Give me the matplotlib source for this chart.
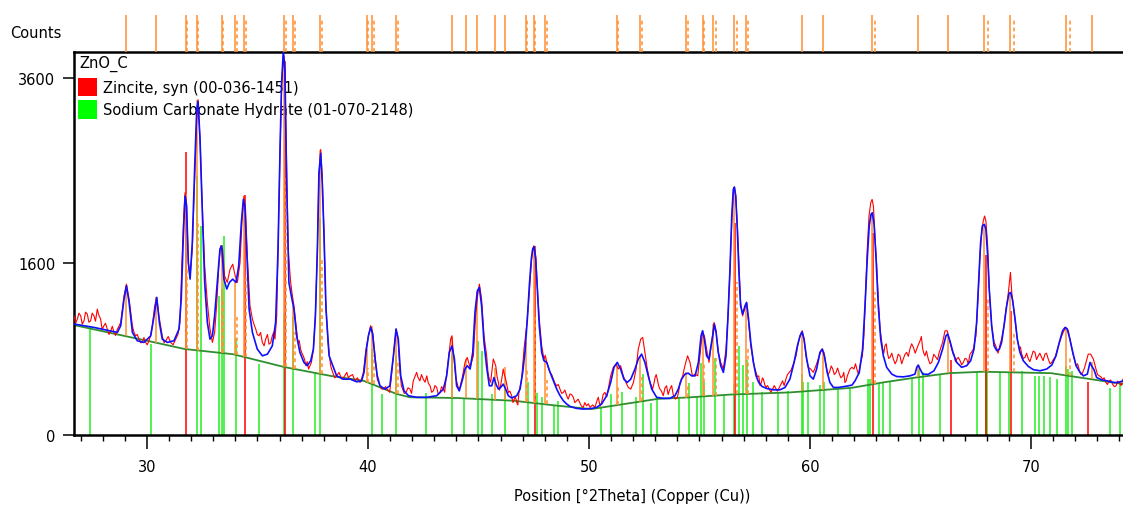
import numpy as np
import matplotlib
matplotlib.use("Agg")
import matplotlib.pyplot as plt
from matplotlib.patches import Rectangle
from matplotlib.ticker import FixedLocator, MultipleLocator

plt.rcParams['font.family'] = ['DejaVu Sans']

# ---------------- data ----------------
obs_x = [26.70, 26.85, 27.00, 27.15, 27.30, 27.45, 27.60, 27.75, 27.90, 28.05, 28.20, 28.36, 28.51, 28.66,
         28.81, 28.96, 29.07, 29.19, 29.34, 29.49, 29.64, 29.79, 29.94, 30.09, 30.24, 30.35, 30.44, 30.54,
         30.69, 30.85, 31.07, 31.30, 31.49, 31.57, 31.64, 31.72, 31.79, 31.87, 31.95, 32.05, 32.16, 32.25,
         32.31, 32.40, 32.49, 32.61, 32.73, 32.85, 32.96, 33.06, 33.15, 33.26, 33.33, 33.42, 33.51, 33.63,
         33.76, 33.88, 33.99, 34.09, 34.21, 34.31, 34.39, 34.46, 34.54, 34.66, 34.77, 34.92, 35.07, 35.22,
         35.37, 35.52, 35.67, 35.79, 35.87, 35.94, 36.02, 36.09, 36.17, 36.24, 36.32, 36.39, 36.50, 36.58,
         36.65, 36.73, 36.83, 36.95, 37.07, 37.19, 37.31, 37.44, 37.53, 37.62, 37.71, 37.78, 37.86, 37.93,
         38.01, 38.08, 38.19, 38.31,
         38.43, 38.58, 38.81, 39.04, 39.19, 39.41, 39.64, 39.79, 39.91, 40.02, 40.12, 40.21, 40.32, 40.42,
         40.54, 40.69, 40.92, 41.04, 41.15, 41.27, 41.36, 41.45, 41.57, 41.72, 41.90, 42.05, 42.20, 42.35,
         42.50, 42.66, 42.81, 42.96, 43.11, 43.26, 43.41, 43.53, 43.64, 43.74, 43.80, 43.86, 43.98, 44.13,
         44.28, 44.39, 44.49, 44.62, 44.77, 44.87, 44.96, 45.04, 45.14, 45.25, 45.37, 45.49, 45.60, 45.67,
         45.78, 45.90, 46.00, 46.12, 46.23, 46.35, 46.50, 46.62, 46.73, 46.83, 46.95, 47.06, 47.18, 47.29,
         47.38, 47.45, 47.51, 47.59, 47.66, 47.75, 47.86, 47.96, 48.09, 48.24, 48.39, 48.54, 48.69, 48.84,
         48.99, 49.14, 49.29, 49.44, 49.59, 49.74, 49.89, 50.05,
         50.27, 50.42, 50.57, 50.72, 50.87, 50.98, 51.10, 51.22, 51.33, 51.43, 51.55, 51.67, 51.78, 51.89,
         52.01, 52.13, 52.23, 52.34, 52.43, 52.53, 52.64, 52.76, 52.88, 52.99, 53.09, 53.21, 53.36, 53.51,
         53.66, 53.82, 54.00, 54.12, 54.24, 54.34, 54.46, 54.57, 54.68, 54.80, 54.92, 55.02, 55.13, 55.22,
         55.32, 55.43, 55.55, 55.66, 55.75, 55.85, 55.96, 56.08, 56.20, 56.29, 56.38, 56.46, 56.53, 56.58,
         56.64, 56.71, 56.79, 56.86, 56.95, 57.04, 57.13, 57.22, 57.32, 57.44, 57.56, 57.68, 57.80, 57.89,
         58.01, 58.16, 58.31, 58.46, 58.61, 58.76, 58.91, 59.06, 59.22, 59.37, 59.47, 59.58, 59.65, 59.73,
         59.82, 59.92, 60.03, 60.15, 60.27, 60.42, 60.53, 60.63, 60.75, 60.88, 61.03, 61.18, 61.33, 61.48,
         61.58, 61.69, 61.81,
         61.99, 62.14, 62.26, 62.37, 62.44, 62.52, 62.59, 62.67, 62.75, 62.81, 62.87, 62.94, 63.02, 63.09,
         63.17, 63.29, 63.39, 63.50, 63.62, 63.77, 63.92, 64.07, 64.22, 64.37, 64.52, 64.68, 64.83, 64.98,
         65.10, 65.20, 65.35, 65.51, 65.70, 65.85, 66.00, 66.11, 66.21, 66.30, 66.41, 66.52, 66.64, 66.79,
         66.94, 67.09, 67.24, 67.39, 67.51, 67.60, 67.69, 67.78, 67.84, 67.90, 67.96, 68.04, 68.11, 68.22,
         68.33, 68.45, 68.57, 68.67, 68.78, 68.87, 68.96, 69.02, 69.07, 69.13, 69.20, 69.29, 69.38, 69.47,
         69.58, 69.73, 69.88, 70.03, 70.18, 70.33, 70.48, 70.63, 70.78, 70.94, 71.09, 71.24, 71.39, 71.49,
         71.58, 71.69, 71.79, 71.92, 72.04, 72.19, 72.34, 72.49, 72.59, 72.70, 72.82, 72.94, 73.09, 73.24,
         73.39, 73.54, 73.69, 73.85, 74.00, 74.16]
obs_y = [1063, 1031, 1063, 1014, 1080, 1014, 1063, 1130, 1031, 965, 933, 916, 900, 933,
         998, 1263, 1382, 1230, 965, 867, 835, 803, 803, 819, 965, 1163, 1247, 1063,
         867, 819, 803, 835, 998, 1535, 1985, 2339, 2232, 1603, 1467, 1741, 2518, 3136,
         3356, 2916, 2267, 1569, 1197, 933, 803, 900, 1163, 1603, 1776, 1741, 1467, 1399,
         1535, 1586, 1467, 1399, 1603, 2090, 2302, 2161, 1672, 1163, 1031, 933, 867, 803,
         835, 786, 867, 835, 1063, 1880, 2807, 3468, 3880, 3655, 2626, 1741, 1399, 1263,
         1163, 998, 803, 739, 675, 582, 551, 613, 739, 1063, 1741, 2518, 2807, 2518,
         1915, 1230, 803, 582,
         504, 488, 458, 520, 488, 443, 428, 520, 739, 868, 966, 900, 675, 458,
         398, 368, 353, 443, 675, 933, 835, 520, 368, 339, 368, 443, 520, 443,
         458, 488, 398, 353, 383, 339, 368, 458, 645, 835, 868, 708, 458, 353,
         488, 613, 660, 567, 675, 1063, 1263, 1382, 1230, 868, 675, 458, 520, 645,
         582, 428, 398, 551, 458, 339, 310, 281, 252, 339, 458, 739, 966, 1263,
         1569, 1741, 1776, 1672, 1365, 1031, 770, 645, 613, 520, 458, 398, 368, 339,
         310, 325, 296, 266, 246, 209, 223, 209,
         210, 296, 252, 339, 368, 488, 567, 597, 551, 582, 488, 428, 383, 368,
         428, 551, 739, 835, 851, 708, 551, 428, 368, 473, 458, 368, 310, 398,
         368, 310, 296, 428, 488, 582, 675, 613, 488, 504, 488, 675, 900, 867,
         739, 613, 803, 998, 916, 708, 613, 551, 739, 1063, 1535, 2019, 2339, 2399,
         2302, 2019, 1569, 1197, 1063, 1130, 1197, 998, 770, 613, 520, 488, 428, 458,
         383, 368, 368, 374, 383, 443, 458, 520, 582, 675, 803, 884, 916, 835,
         675, 567, 551, 520, 582, 675, 739, 708, 551, 520, 551, 520, 504, 488,
         428, 488, 551,
         551, 535, 582, 675, 867, 1332, 1741, 2090, 2232, 2267, 2196, 1880, 1569, 1230,
         933, 739, 770, 708, 660, 645, 629, 675, 645, 708, 739, 755, 739, 819,
         739, 675, 645, 613, 660, 708, 803, 916, 916, 835, 739, 691, 645, 629,
         613, 645, 691, 739, 867, 1230, 1672, 1950, 2038, 2090, 2038, 1776, 1332, 966,
         803, 739, 755, 835, 966, 1130, 1263, 1399, 1502, 1298, 1163, 998, 835, 739,
         691, 660, 645, 675, 708, 675, 660, 691, 645, 613, 660, 770, 867, 916,
         949, 916, 803, 675, 582, 535, 520, 613, 691, 691, 645, 551, 488, 458,
         428, 443, 413, 398, 428, 458]

# extra observed points read in the noisy stretches between peaks
obs_x_extra = [26.77, 26.92, 27.07, 27.22, 27.37, 27.52, 27.67, 27.82, 27.97, 28.12, 28.28, 28.43, 28.58, 28.73,
               29.41, 29.56, 29.71, 29.86, 30.01, 30.16, 30.77, 30.96, 31.18, 31.40,
               34.84, 34.99, 35.14, 35.30, 35.45, 35.60, 35.73, 36.89, 37.01, 37.13, 37.25, 37.37,
               38.37, 38.50, 38.69, 38.92, 39.11, 39.30, 39.52, 39.71, 40.48, 40.61, 40.80, 40.98,
               41.51, 41.64, 41.81, 41.97, 42.12, 42.27, 42.42, 42.58, 42.73, 42.88, 43.03, 43.18, 43.33, 43.47,
               45.43, 45.55, 45.84, 45.95, 46.06, 46.17, 46.29, 46.42, 46.56, 46.67, 46.78, 46.89,
               48.02, 48.16, 48.31, 48.46, 48.61, 48.76, 48.91, 49.06, 49.21, 49.36, 49.51, 49.66, 49.81, 49.97,
               50.16, 50.35, 50.50, 50.64, 50.80,
               52.82, 52.94, 53.04, 53.15, 53.28, 53.44, 53.58, 53.74, 53.91, 54.06,
               57.50, 57.62, 57.74, 57.85, 57.95, 58.08, 58.23, 58.38, 58.53, 58.68, 58.83, 58.98, 59.14,
               60.81, 60.96, 61.10, 61.25, 61.40, 61.53, 61.63, 61.75, 61.90, 62.06, 62.20,
               63.34, 63.45, 63.56, 63.70, 63.85, 63.99, 64.15, 64.30, 64.45, 64.60, 64.76, 64.90, 65.04,
               65.15, 65.27, 65.43, 65.60, 65.77,
               66.47, 66.58, 66.71, 66.86, 67.01, 67.16, 67.31, 68.39, 68.51, 68.62,
               69.52, 69.65, 69.80, 69.95, 70.10, 70.25, 70.40, 70.55, 70.70, 70.86, 71.01,
               72.11, 72.26, 72.42, 72.88, 73.01, 73.16, 73.31, 73.46, 73.61, 73.77, 73.92, 74.08]
obs_y_extra = [990, 1090, 980, 1100, 1000, 1090, 1010, 1070, 930, 990, 880, 960, 870, 960,
               900, 880, 800, 850, 780, 870, 800, 860, 780, 880,
               980, 880, 900, 770, 880, 800, 900, 820, 700, 640, 620, 580,
               540, 470, 520, 480, 470, 500, 470, 460, 430, 370, 390, 340,
               400, 330, 380, 330, 480, 470, 500, 430, 420, 340, 400, 320, 390, 340,
               520, 430, 480, 360, 470, 500, 400, 350, 250, 300, 230, 400,
               680, 560, 500, 420, 410, 330, 360, 280, 320, 250, 280, 220, 250, 240,
               230, 260, 220, 320, 300,
               400, 420, 500, 400, 350, 380, 320, 400, 280, 350,
               560, 480, 400, 470, 410, 400, 340, 400, 350, 410, 400, 500, 540,
               500, 580, 500, 560, 470, 520, 440, 520, 567, 600, 500,
               700, 790, 650, 700, 600, 690, 600, 690, 670, 790, 700, 780, 860,
               700, 720, 600, 690, 640,
               700, 620, 660, 590, 650, 600, 710, 780, 700, 800,
               760, 650, 700, 620, 720, 640, 700, 630, 700, 600, 640,
               600, 500, 560, 600, 500, 480, 470, 410, 450, 390, 440, 400]

fit_x = [26.70, 27.60, 28.66, 28.81, 28.96, 29.07, 29.19, 29.34, 29.56, 29.86, 30.17, 30.32, 30.44, 30.56,
         30.69, 30.92, 31.22, 31.45, 31.55, 31.64, 31.72, 31.79, 31.87, 31.95, 32.05, 32.16, 32.25, 32.31,
         32.40, 32.49, 32.61, 32.73, 32.85, 32.96, 33.06, 33.18, 33.30, 33.38, 33.48, 33.61, 33.73, 33.88,
         34.03, 34.15, 34.27, 34.36, 34.43, 34.51, 34.62, 34.77, 34.99, 35.22, 35.45, 35.67, 35.82, 35.93,
         36.02, 36.09, 36.17, 36.24, 36.32, 36.42, 36.53, 36.65, 36.77, 36.92, 37.10, 37.25, 37.41, 37.53,
         37.62, 37.71, 37.78, 37.86, 37.93, 38.01, 38.10, 38.24,
         38.58, 38.88, 39.19, 39.49, 39.71, 39.82, 39.91, 40.02, 40.12, 40.21, 40.32, 40.42, 40.54, 40.77,
         40.99, 41.15, 41.27, 41.37, 41.48, 41.63, 41.83, 42.20, 42.66, 43.11, 43.41, 43.56, 43.68, 43.80,
         43.91, 44.01, 44.13, 44.28, 44.39, 44.49, 44.62, 44.74, 44.84, 44.95, 45.04, 45.14, 45.25, 45.37,
         45.49, 45.60, 45.70, 45.79, 45.90, 46.00, 46.12, 46.23, 46.35, 46.50, 46.73, 46.88, 47.00, 47.10,
         47.21, 47.30, 47.39, 47.45, 47.51, 47.59, 47.66, 47.75, 47.86, 47.96, 48.09, 48.24, 48.39, 48.54,
         48.69, 48.84, 48.99, 49.14, 49.44, 49.74, 50.14,
         50.35, 50.57, 50.80, 50.98, 51.13, 51.28, 51.43, 51.58, 51.73, 51.89, 52.08, 52.23, 52.38, 52.53,
         52.68, 52.84, 53.06, 53.36, 53.66, 53.89, 54.04, 54.19, 54.34, 54.49, 54.65, 54.80, 54.95, 55.07,
         55.14, 55.22, 55.32, 55.43, 55.52, 55.60, 55.67, 55.75, 55.85, 55.96, 56.08, 56.20, 56.29, 56.38,
         56.46, 56.53, 56.58, 56.64, 56.71, 56.79, 56.86, 56.95, 57.06, 57.13, 57.22, 57.32, 57.44, 57.56,
         57.68, 57.83, 58.04, 58.34, 58.64, 58.87, 59.09, 59.28, 59.43, 59.55, 59.64, 59.73, 59.85, 60.00,
         60.15, 60.30, 60.45, 60.56, 60.65, 60.78, 60.90, 61.06, 61.28, 61.58, 61.90,
         62.04, 62.23, 62.38, 62.49, 62.59, 62.68, 62.76, 62.82, 62.90, 62.99, 63.09, 63.20, 63.32, 63.47,
         63.70, 63.92, 64.22, 64.52, 64.75, 64.83, 64.90, 64.98, 65.10, 65.35, 65.61, 65.81, 66.00, 66.15,
         66.23, 66.33, 66.49, 66.64, 66.86, 67.09, 67.27, 67.42, 67.54, 67.63, 67.72, 67.80, 67.89, 67.96,
         68.04, 68.11, 68.22, 68.33, 68.45, 68.57, 68.67, 68.78, 68.90, 69.00, 69.08, 69.17, 69.28, 69.38,
         69.50, 69.65, 69.88, 70.11, 70.41, 70.71, 70.94, 71.13, 71.28, 71.43, 71.54, 71.64, 71.76, 71.89,
         72.04, 72.22, 72.37, 72.55, 72.67, 72.74, 72.85, 72.97, 73.20, 73.42, 73.72, 73.95, 74.16]
fit_y = [982, 949, 900, 965, 1230, 1365, 1197, 900, 819, 803, 867, 1063, 1247, 998,
         835, 803, 819, 933, 1230, 1845, 2302, 2196, 1603, 1433, 1810, 2626, 3246, 3338,
         2916, 2232, 1399, 998, 835, 867, 1063, 1399, 1741, 1776, 1433, 1332, 1399, 1433,
         1399, 1569, 2019, 2267, 2196, 1741, 1130, 900, 739, 675, 691, 770, 998, 1741,
         2807, 3540, 3900, 3690, 2445, 1399, 1263, 1130, 867, 707, 613, 582, 629, 739,
         1063, 1741, 2553, 2765, 2445, 1880, 1130, 675,
         488, 458, 458, 434, 443, 520, 708, 868, 949, 884, 645, 488, 398, 368,
         398, 675, 933, 835, 488, 353, 310, 296, 296, 310, 368, 488, 708, 770,
         645, 398, 353, 458, 551, 582, 551, 708, 1097, 1315, 1349, 1163, 803, 567,
         398, 398, 473, 413, 368, 383, 413, 368, 310, 290, 310, 368, 520, 708,
         1031, 1365, 1638, 1741, 1769, 1638, 1332, 966, 708, 629, 613, 520, 443, 368,
         310, 266, 238, 218, 201, 195, 201,
         210, 238, 310, 428, 567, 613, 551, 458, 428, 458, 551, 645, 691, 613,
         488, 368, 296, 287, 287, 310, 368, 458, 504, 513, 488, 488, 613, 867,
         916, 835, 675, 645, 770, 867, 982, 900, 708, 582, 520, 675, 1063, 1535,
         2090, 2374, 2399, 2302, 1950, 1467, 1163, 1080, 1163, 1197, 1031, 803, 613, 488,
         428, 392, 374, 362, 362, 383, 458, 613, 770, 867, 906, 835, 645, 488,
         458, 551, 708, 739, 675, 520, 428, 383, 383, 392, 404,
         443, 520, 739, 1163, 1638, 1985, 2108, 2125, 2002, 1638, 1163, 835, 675, 567,
         504, 482, 479, 488, 504, 567, 588, 551, 504, 502, 535, 613, 739, 867,
         884, 819, 691, 613, 567, 582, 629, 739, 998, 1399, 1811, 1985, 2002, 1950,
         1672, 1332, 966, 770, 724, 739, 803, 966, 1163, 1287, 1298, 1214, 1031, 835,
         708, 629, 575, 545, 535, 551, 588, 675, 803, 916, 949, 933, 835, 708,
         582, 520, 488, 504, 613, 582, 545, 473, 452, 443, 428, 428, 443]

bg_x = [26.7, 28.5, 30.2, 31.7, 33.9, 36.2, 38.3, 39.8, 41.3, 41.9, 44.0, 46.6, 48.5, 50.1,
        51.6, 53.1, 54.6, 56.4, 59.1, 61.9, 63.3, 64.8, 66.3, 67.8, 70.9, 72.4, 74.2]
bg_y = [972, 888, 810, 740, 690, 570, 488, 443, 325, 296, 290, 266, 225, 195,
        238, 282, 296, 320, 339, 380, 428, 473, 513, 526, 513, 467, 413]

# Zincite, syn (00-036-1451) reference sticks
zincite_pos = [31.77, 34.42, 36.25, 47.54, 56.60, 62.86, 66.38, 67.96, 69.10, 72.56]
zincite_h = [2775, 2310, 3790, 1770, 2013, 1908, 635, 1679, 1110, 432]

# Sodium Carbonate Hydrate (01-070-2148) reference sticks
sodium_pos = [27.41, 30.17, 32.25, 32.43, 33.24, 33.38, 33.48, 34.04, 35.07, 36.20, 36.61, 37.60,
              37.83, 40.17, 40.63, 41.28, 42.64, 43.80, 44.33, 44.96, 45.16, 45.62, 46.20, 47.25,
              47.63, 47.86, 48.42, 48.61, 50.54, 51.01, 51.48, 52.11, 52.43, 52.82, 53.06, 54.09,
              54.52, 54.87, 55.07, 55.22, 55.69, 56.11, 56.56, 56.80, 56.98, 57.13, 57.43, 57.81,
              58.57, 59.02, 59.64, 59.70, 59.91, 60.45, 60.63, 61.28, 61.81, 62.61, 62.71, 63.14,
              63.32, 63.62, 64.60, 64.95, 65.13, 65.88, 67.54, 67.96, 68.02, 68.60, 69.02, 69.58,
              70.18, 70.38, 70.59, 70.86, 71.16, 71.58, 71.69, 71.84, 73.57, 74.03]
sodium_h = [960, 787, 2515, 1980, 1260, 1330, 1877, 850, 597, 1080, 1050, 523,
            2055, 740, 325, 672, 333, 692, 281, 816, 720, 325, 368, 432,
            333, 298, 221, 264, 207, 325, 340, 296, 504, 250, 296, 296,
            423, 310, 612, 428, 650, 316, 413, 764, 588, 637, 428, 340,
            340, 354, 504, 433, 433, 404, 428, 368, 368, 459, 459, 413,
            428, 442, 459, 551, 524, 495, 524, 542, 530, 524, 524, 533,
            490, 490, 490, 475, 460, 580, 551, 530, 380, 428]

# fitted peak list (K-alpha1, solid) : position, base, top
peak_pos = [29.05, 30.39, 31.75, 32.24, 33.38, 34.00, 34.40, 36.20, 36.62, 37.83, 39.94, 40.17,
            41.27, 43.80, 44.43, 44.92, 45.73, 46.20, 47.14, 47.50, 48.00, 51.25, 52.33, 54.39,
            55.14, 55.62, 56.56, 57.09, 59.62, 60.60, 62.79, 64.89, 66.23, 67.87, 69.05, 71.58, 72.74]
peak_base = [863, 801, 739, 727, 702, 685, 664, 570, 554, 506, 432, 417,
             327, 291, 286, 281, 274, 270, 254, 247, 236, 228, 259, 294,
             303, 309, 321, 325, 347, 361, 411, 475, 511, 526, 521, 492, 457]
peak_top = [1360, 1250, 2330, 3350, 1780, 1400, 2300, 3850, 1160, 2800, 740, 960,
            933, 860, 645, 1300, 560, 567, 803, 1770, 660, 580, 675, 520,
            916, 980, 2374, 1163, 900, 724, 2125, 588, 867, 2002, 1287, 933, 613]

# K-alpha2 companions (dashed)
ka2_pos = [31.80, 32.32, 33.45, 34.06, 34.48, 36.28, 36.70, 37.91, 40.00, 40.26, 41.36, 47.21,
           47.57, 48.08, 51.33, 52.41, 54.50, 55.22, 55.73, 56.69, 57.20, 62.95, 68.04, 69.23, 71.75]
ka2_base = [737, 725, 700, 682, 660, 567, 551, 503, 427, 411, 322, 253,
            246, 234, 230, 262, 295, 304, 311, 322, 326, 417, 525, 520, 487]
ka2_top = [1535, 2050, 1250, 1050, 1480, 2500, 900, 1650, 560, 680, 640, 550,
           1050, 450, 400, 480, 420, 600, 650, 1400, 760, 1300, 1230, 900, 650]

x_ticks = [30, 40, 50, 60, 70]
y_ticks = [0, 1600, 3600]

# merge the observed readings in angle order
ox = np.array(obs_x + obs_x_extra)
oy = np.array(obs_y + obs_y_extra)
order = np.argsort(ox, kind='stable')
ox, oy = ox[order], oy[order]

# ---------------- figure ----------------
W, H = 1123, 506
fig = plt.figure(figsize=(W / 100, H / 100), dpi=100)
fig.patch.set_facecolor('white')

def fx(px):
    return px / W

def fy(py):
    return 1 - py / H

ax = fig.add_axes([fx(74), fy(436), fx(1123 - 74), (436 - 53) / H])

P = 0.9
def fwd(v):
    v = np.asarray(v, dtype=float)
    return np.sign(v) * np.abs(v) ** P
def inv(v):
    v = np.asarray(v, dtype=float)
    return np.sign(v) * np.abs(v) ** (1 / P)

ax.set_yscale('function', functions=(fwd, inv))
ax.set_xlim(26.697, 74.163)
ax.set_ylim(0, 3890)

ORANGE = '#ff9030'
GREEN = '#22ee22'

ax.vlines(sodium_pos, 0, sodium_h, color=GREEN, lw=1.1, zorder=2)
ax.vlines(zincite_pos, 0, zincite_h, color='#ff0000', lw=1.1, zorder=2.1)
ax.plot(bg_x, bg_y, color='#2f8f2f', lw=1.3, zorder=2.2)
ax.vlines(peak_pos, peak_base, peak_top, color=ORANGE, lw=1.1, zorder=2.3)
ax.vlines(ka2_pos, ka2_base, ka2_top, color=ORANGE, lw=1.1, linestyles=(0, (2.5, 2)), zorder=2.3)
ax.plot(ox, oy, color='#ff0000', lw=0.8, zorder=3)
ax.plot(fit_x, fit_y, color='#1010ff', lw=1.2, zorder=4)

# axes styling
for s in ['left', 'bottom', 'top']:
    ax.spines[s].set_linewidth(1.8)
    ax.spines[s].set_color('black')
ax.spines['right'].set_visible(False)

ax.xaxis.set_major_locator(FixedLocator(x_ticks))
ax.xaxis.set_minor_locator(MultipleLocator(1))
ax.yaxis.set_major_locator(FixedLocator(y_ticks))
ax.yaxis.set_minor_locator(FixedLocator([]))
ax.set_yticklabels([str(v) for v in y_ticks])
ax.set_xticklabels([str(v) for v in x_ticks])
ax.tick_params(axis='x', which='major', length=10, width=1.1, pad=7, labelsize=10.5, direction='out')
ax.tick_params(axis='x', which='minor', length=4, width=1.0, direction='out')
ax.tick_params(axis='y', which='major', length=8, width=1.1, pad=5.5, labelsize=10.5, direction='out')
ax.tick_params(top=False, right=False, which='both')

# legend-like labels inside the plot
tf = fig.transFigure
ax.text(fx(79), fy(64), 'ZnO_C', transform=tf, ha='left', va='center', fontsize=10.5, zorder=1)
ax.add_patch(Rectangle((fx(78), fy(97)), fx(19), 18 / H, transform=tf, facecolor='#ff0000',
                       edgecolor='none', clip_on=False, zorder=1))
ax.add_patch(Rectangle((fx(78), fy(120)), fx(19), 19 / H, transform=tf, facecolor='#00ff00',
                       edgecolor='none', clip_on=False, zorder=1))
ax.text(fx(103), fy(88), 'Zincite, syn (00-036-1451)', transform=tf, ha='left', va='center',
        fontsize=10.5, zorder=1)
ax.text(fx(103), fy(111), 'Sodium Carbonate Hydrate (01-070-2148)', transform=tf, ha='left',
        va='center', fontsize=10.5, zorder=1)

# x label (offset like the original)
fig.text(fx(632), fy(496), 'Position [°2Theta] (Copper (Cu))', ha='center', va='center', fontsize=10.5)

# top strip with peak list markers
ax2 = fig.add_axes([fx(74), fy(53), fx(1123 - 74), 37 / H])
ax2.set_xlim(ax.get_xlim())
ax2.set_ylim(0, 1)
ax2.vlines(peak_pos, 0, 1, color=ORANGE, lw=1.1)
ax2.vlines(ka2_pos, 0, 0.9, color=ORANGE, lw=1.1, linestyles=(0, (2.5, 2)))
ax2.axis('off')

fig.text(fx(10), fy(33), 'Counts', ha='left', va='center', fontsize=10.5)

fig.savefig('out.png', dpi=100)
